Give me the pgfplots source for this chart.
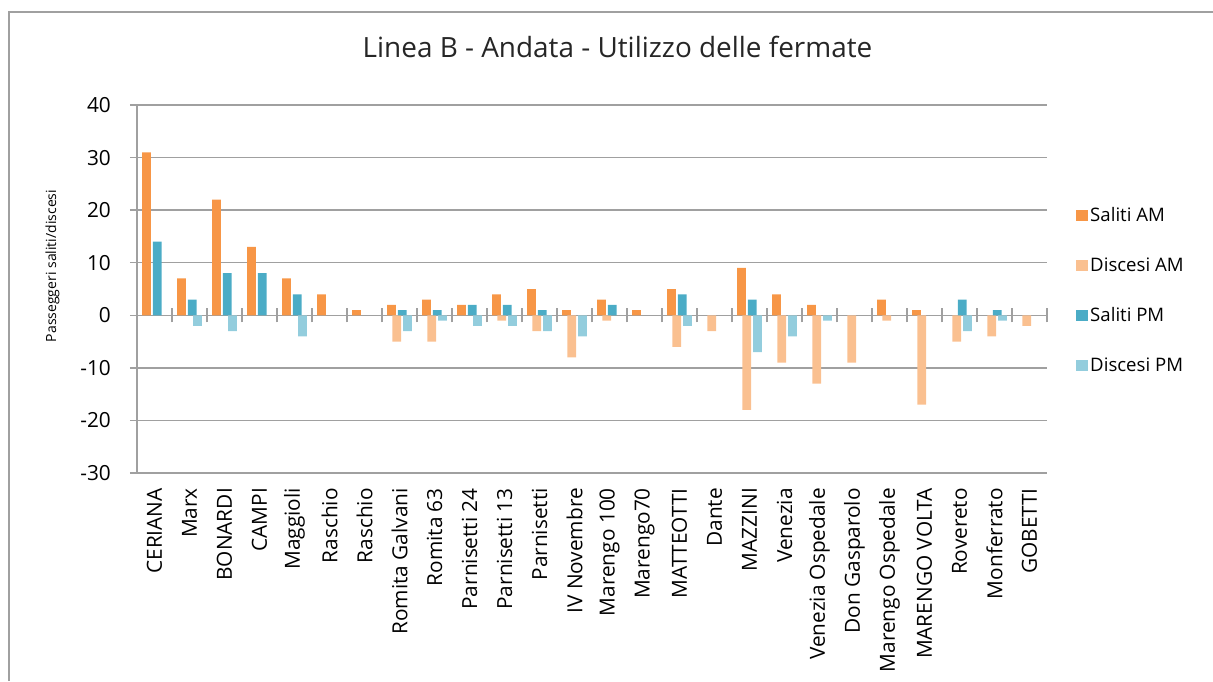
\documentclass[border=0pt]{standalone}
\usepackage{pgfplots}
\pgfplotsset{compat=1.18}
\usepackage{fontspec}
\setmainfont{Open Sans}
\definecolor{sam}{HTML}{F79646}
\definecolor{dam}{HTML}{FAC090}
\definecolor{spm}{HTML}{4BACC6}
\definecolor{dpm}{HTML}{93CDDD}
\definecolor{gridc}{HTML}{A0A0A0}
\begin{document}
\begin{tikzpicture}
\useasboundingbox (0pt,0pt) rectangle (1213pt,681pt);
\draw[gridc, line width=1.3pt] (9pt,0pt) -- (9pt,669pt) -- (1213pt,669pt);
\node[font=\fontsize{27.9}{33}\selectfont, text=black!85, anchor=base] at (617.5pt,623pt) {Linea B - Andata - Utilizzo delle fermate};
\begin{axis}[
  at={(137pt,208pt)}, anchor=south west,
  scale only axis, width=910pt, height=368pt,
  xmin=-0.5, xmax=25.5, ymin=-30, ymax=40,
  axis x line*=bottom, axis y line*=left,
  x axis line style={draw=none},
  y axis line style={gridc, line width=1.3pt},
  xtick={0,...,25},
  xticklabels={CERIANA,Marx,BONARDI,CAMPI,Maggioli,Raschio,Raschio,Romita Galvani,Romita 63,Parnisetti 24,Parnisetti 13,Parnisetti,IV Novembre,Marengo 100,Marengo70,MATTEOTTI,Dante,MAZZINI,Venezia,Venezia Ospedale,Don Gasparolo,Marengo Ospedale,MARENGO VOLTA,Rovereto,Monferrato,GOBETTI},
  xticklabel style={rotate=90, anchor=east, inner sep=0pt, font=\fontsize{20.8}{24}\selectfont},
  xtick align=inside,
  xtick style={draw=none},
  xticklabel shift=15pt,
  ytick={-30,-20,-10,0,10,20,30,40},
  yticklabels={-30,-20,-10,0,10,20,30,40},
  ytick align=outside, major tick length=7pt,
  ytick style={gridc, line width=1.3pt},
  ymajorgrids, major grid style={gridc, line width=1.3pt},
  yticklabel style={font=\fontsize{20.8}{24}\selectfont, anchor=east, inner sep=0pt},
  yticklabel shift=19pt,
  ylabel={Passeggeri saliti/discesi},
  every axis y label/.style={at={(axis description cs:-0.093,0.5625)}, rotate=90, anchor=center, font=\fontsize{14}{16}\selectfont},
  clip=false,
  legend style={draw=none, fill=none, at={(axis description cs:1.0319,0.727)}, anchor=north west,
    font=\fontsize{18.6}{22}\selectfont, row sep=30.6pt, inner sep=0pt,
    nodes={inner sep=2pt}},
  legend cell align=left,
  legend image code/.code={\fill[#1] (0pt,-5.5pt) rectangle (12pt,5.5pt);},
]
\addplot[ybar, bar width=8.7pt, bar shift=-8pt, fill=sam, draw=none] coordinates {
 (0,31) (1,7) (2,22) (3,13) (4,7) (5,4) (6,1) (7,2) (8,3) (9,2) (10,4) (11,5) (12,1) (13,3) (14,1) (15,5) (17,9) (18,4) (19,2) (21,3) (22,1)};
\addlegendentry{Saliti AM}
\addplot[ybar, bar width=8.7pt, bar shift=-2.67pt, fill=dam, draw=none] coordinates {
 (7,-5) (8,-5) (10,-1) (11,-3) (12,-8) (13,-1) (15,-6) (16,-3) (17,-18) (18,-9) (19,-13) (20,-9) (21,-1) (22,-17) (23,-5) (24,-4) (25,-2)};
\addlegendentry{Discesi AM}
\addplot[ybar, bar width=8.7pt, bar shift=2.67pt, fill=spm, draw=none] coordinates {
 (0,14) (1,3) (2,8) (3,8) (4,4) (7,1) (8,1) (9,2) (10,2) (11,1) (13,2) (15,4) (17,3) (23,3) (24,1)};
\addlegendentry{Saliti PM}
\addplot[ybar, bar width=8.7pt, bar shift=8pt, fill=dpm, draw=none] coordinates {
 (1,-2) (2,-3) (4,-4) (7,-3) (8,-1) (9,-2) (10,-2) (11,-3) (12,-4) (15,-2) (17,-7) (18,-4) (19,-1) (23,-3) (24,-1)};
\addlegendentry{Discesi PM}
\pgfplotsinvokeforeach{-0.5,0.5,...,25.5}{
  \draw[gridc, line width=1.3pt] (axis cs:#1,-1.33) -- (axis cs:#1,1.33);
}
\end{axis}
\end{tikzpicture}
\end{document}
